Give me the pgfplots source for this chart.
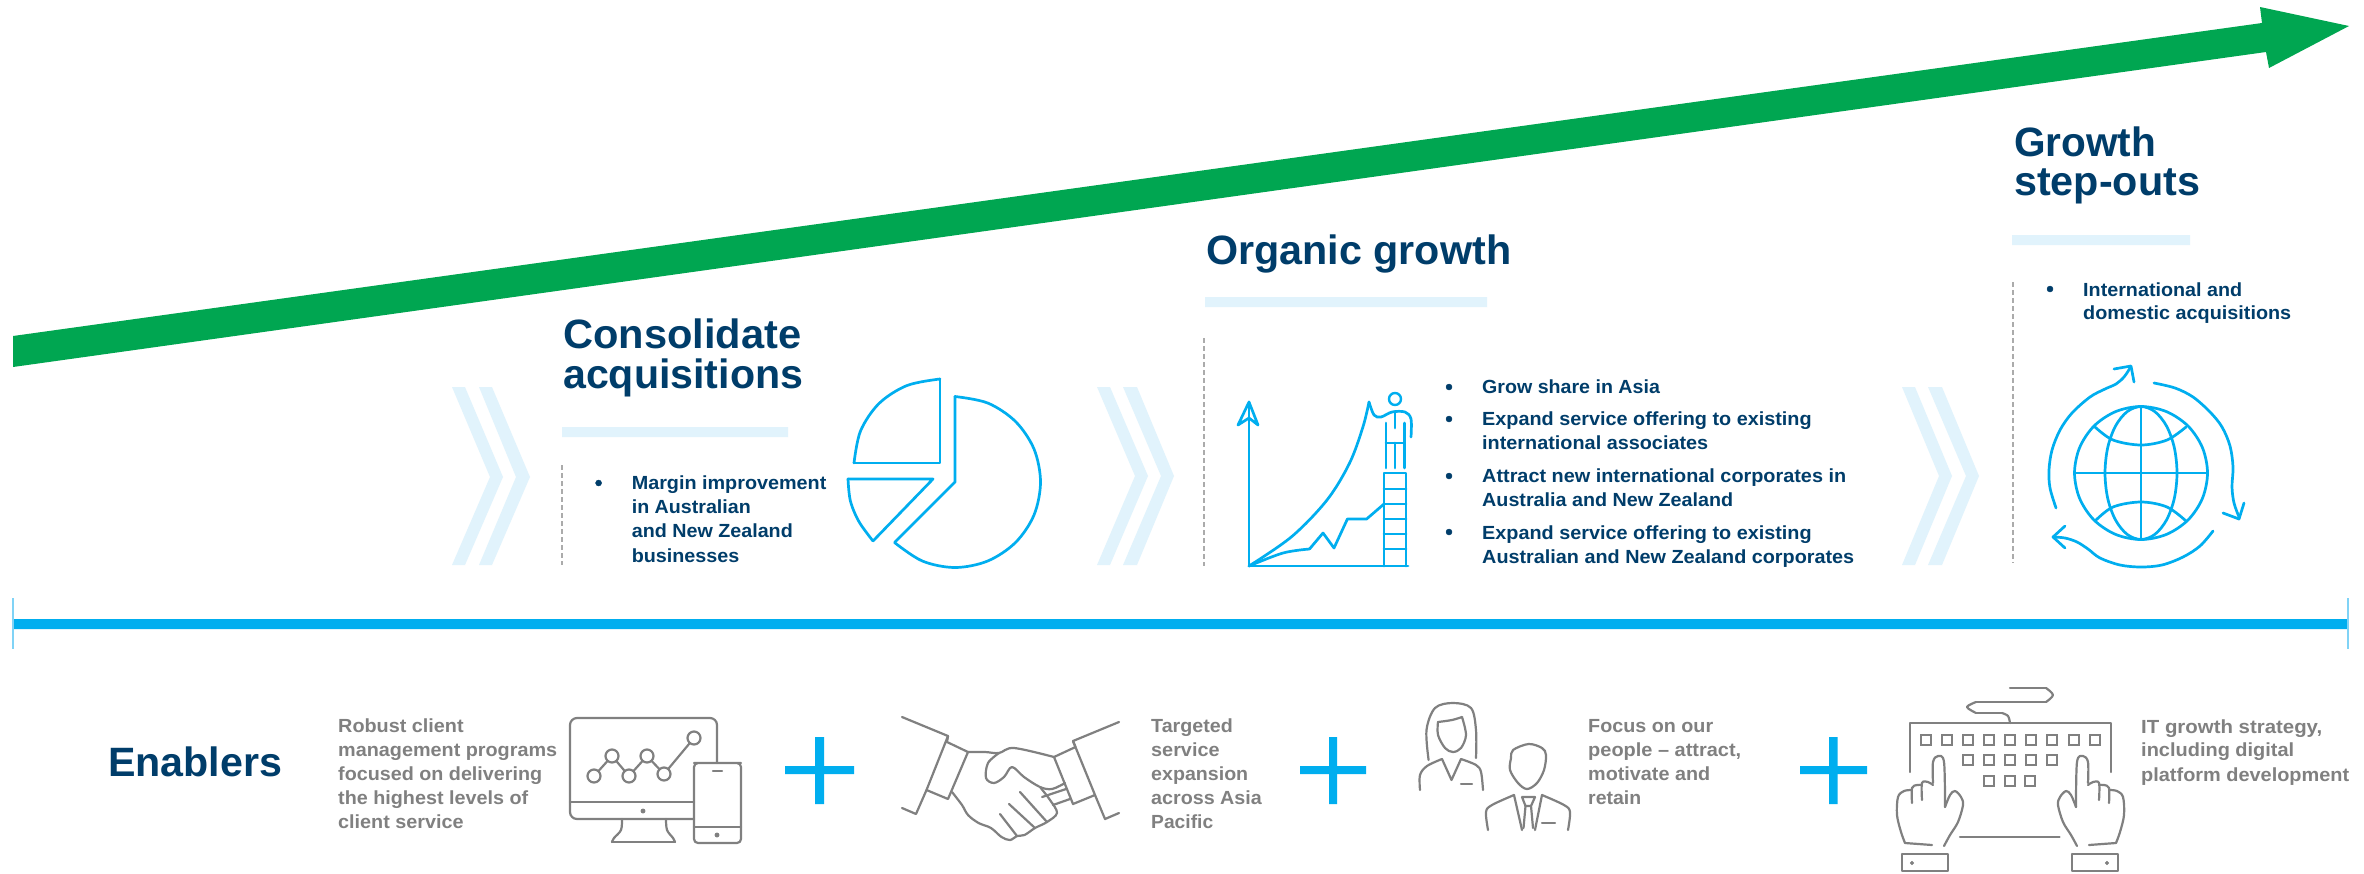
\documentclass[border=0pt]{standalone}
\usepackage{fontspec}
\setmainfont{Liberation Sans}
\usepackage{graphicx}
\usepackage{pgfplots}
\pgfplotsset{compat=1.18}
\definecolor{navy}{HTML}{003D6A}
\definecolor{leaf}{HTML}{00A651}
\definecolor{sky}{HTML}{00AEEF}
\definecolor{pale}{HTML}{E1F3FC}
\definecolor{ash}{HTML}{808080}
\definecolor{dash}{HTML}{ABABAB}
\definecolor{edge}{HTML}{80D3F6}

% one line of bold text: x, baseline y, width, size, colour, words
\newcommand\Lab[6]{\node[anchor=base west,inner sep=0pt,text=#5] at (axis cs:#1,#2)
  {\resizebox{#3pt}{\height}{\fontsize{#4pt}{#4pt}\selectfont\bfseries #6}};}
\newcommand\Area[2]{\addplot[fill=#1,draw=none] coordinates {#2};}
\newcommand\Ln[2]{\addplot[#1] coordinates {#2};}

\pgfplotsset{
  ic/.style={draw=sky,line width=2.7pt,line join=round,line cap=round},
  gr/.style={draw=ash,line width=2.2pt,line join=round,line cap=round},
  sm/.style={smooth,tension=0.55},
  round/.style={smooth cycle,tension=0.55},
  dots/.style={only marks,mark=*,mark size=3pt,mark options={draw=navy,fill=navy}},
  sep/.style={draw=dash,line width=1.8pt,dash pattern=on 5pt off 3pt},
  key/.style={only marks,mark=square*,mark size=5pt,mark options={draw=ash,fill=white,line width=2pt,rounded corners=2pt}},
}

\begin{document}
\begin{tikzpicture}
\begin{axis}[
  scale only axis,width=2364pt,height=873pt,
  xmin=0,xmax=2364,ymin=0,ymax=873,y dir=reverse,
  ticks=none,axis line style={draw=none},
]
% page ground
\Area{white}{(0,0)(2364,0)(2364,873)(0,873)(0,0)}

% rising arrow
\Area{leaf}{(13,336)(2262,23)(2260,7)(2349,26)(2269,68)(2266,52)(13,367)(13,336)}

% chevrons between the stages
\Area{pale}{(452,387)(465,387)(503,477)(465,565)(452,565)(490,477)(452,387)}
\Area{pale}{(479,387)(492,387)(530,477)(492,565)(479,565)(516,477)(479,387)}
\Area{pale}{(1097,387)(1110,387)(1148,476)(1110,565)(1097,565)(1135,476)(1097,387)}
\Area{pale}{(1123,387)(1137,387)(1174,476)(1137,565)(1123,565)(1161,476)(1123,387)}
\Area{pale}{(1902,387)(1915,387)(1952,476)(1915,565)(1902,565)(1939,476)(1902,387)}
\Area{pale}{(1928,387)(1942,387)(1979,476)(1942,565)(1928,565)(1966,476)(1928,387)}

% bars under the headings
\Area{pale}{(562,427)(788,427)(788,437)(562,437)(562,427)}
\Area{pale}{(1205,297)(1487,297)(1487,307)(1205,307)(1205,297)}
\Area{pale}{(2012,235)(2190,235)(2190,245)(2012,245)(2012,235)}

% dashed separators
\Ln{sep,line width=1.4pt}{(562,465)(562,565)}
\Ln{sep}{(1204,338)(1204,566)}
\Ln{sep}{(2013,282)(2013,563)}

% timeline rule
\Area{sky}{(13,619)(2348,619)(2348,629)(13,629)(13,619)}
\Ln{draw=edge,line width=2pt}{(13,598)(13,649)}
\Ln{draw=edge,line width=2pt}{(2348,598)(2348,649)}

% pie icon
\Ln{ic,sm}{(940,379)(907,385.5)(879,403.5)(860.5,431)(854,463)}
\Ln{ic}{(940,379)(940,463)(854,463)}
\Ln{ic,sm}{(955,396.5)(987.7,403)(1015.5,421.5)(1034,449)(1040.5,482)(1034,515)(1015.5,542.5)(987.7,561)(955,567.5)(922.3,561)(894.5,542.5)}
\Ln{ic}{(955,396.5)(955,482)(895,542)}
\Ln{ic}{(848,479)(933,479)(873,541)}
\Ln{ic,sm}{(848,479)(850.4,501)(859,521.7)(873,541)}

% growth chart icon
\Ln{ic}{(1249,566)(1249,402)}
\Ln{ic}{(1238,425)(1249,402)(1258,425)(1249,418)(1238,425)}
\Ln{ic}{(1249,566)(1408,566)}
\Ln{ic}{(1384,566)(1384,473)(1406,473)(1406,566)}
\Ln{ic}{(1384,489)(1406,489)}
\Ln{ic}{(1384,504)(1406,504)}
\Ln{ic}{(1384,519)(1406,519)}
\Ln{ic}{(1384,534)(1406,534)}
\Ln{ic}{(1384,549)(1406,549)}
\Ln{ic,sm}{(1249,566)(1291.6,536.7)(1327,500)(1349.6,463)(1363,426.7)(1369,402)}
\Ln{ic,sm}{(1369,402)(1374,415)(1381,417)(1392,412)(1405,412)(1411,419)(1411,437)}
\Ln{ic,sm}{(1249,566)(1283,553)(1309.5,549)}
\Ln{ic}{(1309.5,549)(1323,533)(1334,548)(1347.4,519)(1366.6,519)(1384,504)}
\addplot[only marks,mark=o,mark size=6pt,mark options={draw=sky,line width=2.4pt}] coordinates {(1395,399)};
\Ln{ic}{(1395,412)(1395,428)}
\Ln{ic}{(1386,423)(1386,468)}
\Ln{ic}{(1404.5,423)(1404.5,468)}
\Ln{ic}{(1386,443)(1404.5,443)}
\Ln{ic}{(1395,443)(1395,468)}

% globe icon
\Ln{ic,round}{(2207.5,473)(2202.4,498.4)(2188,520)(2166.4,534.4)(2141,539.5)(2115.6,534.4)(2094,520)(2079.6,498.4)(2074.5,473)(2079.6,447.6)(2094,426)(2115.6,411.6)(2141,406.5)(2166.4,411.6)(2188,426)(2202.4,447.6)}
\Ln{ic,round}{(2177,473)(2174.3,498.4)(2166.5,520)(2154.8,534.4)(2141,539.5)(2127.2,534.4)(2115.5,520)(2107.7,498.4)(2105,473)(2107.7,447.6)(2115.5,426)(2127.2,411.6)(2141,406.5)(2154.8,411.6)(2166.5,426)(2174.3,447.6)}
\Ln{ic}{(2074.5,473)(2207.5,473)}
\Ln{ic}{(2141,406.5)(2141,539.5)}
\Ln{ic,sm}{(2095,427)(2113,440)(2141,445)(2167,440)(2186,427)}
\Ln{ic,sm}{(2095,521)(2113,507)(2141,502)(2167,507)(2186,521)}
\Ln{ic,sm}{(2056,508)(2050,488)(2049,470)(2052,450)(2060,430)(2072,413)(2090,397)(2105,389)(2116,384)(2124,377)(2130,368)}
\Ln{ic}{(2114,369)(2131,366)(2134,382)}
\Ln{ic,sm}{(2154,383)(2175,388)(2193,397)(2210,412)(2222,427)(2230,446)(2233,467)(2232,487)(2234,503)(2239,517)}
\Ln{ic}{(2223,513)(2239,519)(2244,503)}
\Ln{ic,sm}{(2213,531)(2200,546)(2183,557)(2162,565)(2141,567)(2120,565)(2100,558)(2088,549)(2077,542)(2065,538)(2053,537)}
\Ln{ic}{(2065,526)(2053,537)(2065,548)}

% plus signs
\Area{sky}{(815,737)(824,737)(824,804)(815,804)(815,737)}
\Area{sky}{(785,766)(854,766)(854,774)(785,774)(785,766)}
\Area{sky}{(1329,737)(1337,737)(1337,804)(1329,804)(1329,737)}
\Area{sky}{(1300,766)(1366,766)(1366,774)(1300,774)(1300,766)}
\Area{sky}{(1829,737)(1837.5,737)(1837.5,804)(1829,804)(1829,737)}
\Area{sky}{(1800,766)(1867,766)(1867,774)(1800,774)(1800,766)}

% monitor and phone icon
\Ln{gr,rounded corners=7pt}{(694,819)(570,819)(570,718)(717,718)(717,763)}
\Ln{gr}{(570,802)(694,802)}
\addplot[only marks,mark=*,mark size=2.2pt,mark options={draw=ash,fill=ash}] coordinates {(643,811)(717,835)};
\Ln{gr,sm}{(622,819)(621,830)(614,838)(612,842)}
\Ln{gr,sm}{(666,819)(667,830)(673,838)(675,842)}
\Ln{gr}{(612,842)(675,842)}
\Ln{gr,rounded corners=4pt}{(694,763)(741,763)(741,843)(694,843)(694,763)(741,763)}
\Ln{gr}{(713,771)(722,771)}
\Ln{gr}{(694,827)(741,827)}
\Ln{gr}{(594,776)(612,756)(629,776)(647,756)(664,774)(694,738)}
\addplot[only marks,mark=*,mark size=6.5pt,mark options={draw=ash,fill=white,line width=2.2pt}] coordinates {(594,776)(612,756)(629,776)(647,756)(664,774)(694,738)};

% handshake icon
\Ln{gr}{(902,717)(948,736)(947,742)}
\Ln{gr}{(948,736)(926.5,790)(948,799)(968,752)(947,742)}
\Ln{gr}{(926.5,790)(916,814)(902,808)}
\Ln{gr}{(1119,722)(1073,741)(1075.5,747)}
\Ln{gr}{(1075.5,747)(1054,757)(1073,804)(1095,795)(1073,741)}
\Ln{gr}{(1095,795)(1105,819)(1119,813)}
\Ln{gr,sm}{(968,752)(985,752)(999,753)(1014,748)(1054,757)}
\Ln{gr,sm}{(999,753)(988,763)(986,778)(994,783)(1004,777)(1012,767)(1024,777)(1040,787)(1052,789)(1065,783)}
\Ln{gr,sm}{(1040,787)(1050,800)(1057,813)(1047,822)(1035,828)(1024.5,835)(1017,836)(1010,840)(1001.5,837)(991,828)(978.6,823)(968,815)(962,805)(952,792)}
\Ln{gr}{(1020,792)(1047,822)}
\Ln{gr}{(1009,804)(1035,828)}
\Ln{gr}{(1000,814)(1017,836)}
\Ln{gr}{(1053,805)(1070,799)}
\Ln{gr}{(1042,797)(1066,789)}

% people icon
\Ln{gr,sm}{(1428.6,760)(1426.5,730)(1435,708)(1453,703)(1471,708)(1476,730)(1476,758)}
\Ln{gr,sm}{(1438,722)(1438,735)(1445,748)(1453,752)(1461,748)(1466,735)(1462,717)}
\Ln{gr,sm}{(1438,722)(1452,720)(1462,717)}
\Ln{gr,sm}{(1420,790)(1420,775)(1427,766)(1442,759)}
\Ln{gr}{(1442,759)(1451.5,780)(1461,759)}
\Ln{gr,sm}{(1461,759)(1476,765)(1481,772)(1483,790)}
\Ln{gr}{(1461,784)(1472,784)}
\Ln{gr,round}{(1528.6,744)(1513,750)(1511,758)(1510,770)(1518,783)(1527,789)(1537,783)(1544,770)(1546,755)(1542,748)}
\Ln{gr,sm}{(1488,830)(1486,812)(1492,805)(1514,795)}
\Ln{gr}{(1514,795)(1522,830)}
\Ln{gr,sm}{(1568,830)(1570,812)(1564,805)(1542,795)}
\Ln{gr}{(1542,795)(1535,830)}
\Ln{gr}{(1522,797)(1535,797)(1531,806)(1525.5,806)(1522,797)}
\Ln{gr}{(1525.5,806)(1523.5,828)}
\Ln{gr}{(1531,806)(1533,828)}
\Ln{gr}{(1542,823)(1555,823)}

% keyboard and hands icon
\Ln{gr,sm}{(2046,688)(2053,695)(2046,702)}
\Ln{gr}{(2010,688)(2046,688)}
\Ln{gr}{(1976,702)(2046,702)}
\Ln{gr,sm}{(1976,702)(1967,707)(1976,713)}
\Ln{gr}{(1976,713)(2002,713)}
\Ln{gr,sm}{(2002,713)(2008,716)(2010,723)}
\Ln{gr}{(1910,772)(1910,723)(2111,723)(2111,772)}
\addplot[key] coordinates {(1926,740)(1947,740)(1968,740)(1989,740)(2010,740)(2031,740)(2052,740)(2074,740)(2095,740)
  (1968,760)(1989,760)(2010,760)(2031,760)(2052,760)
  (1989,781)(2010,781)(2030,781)};
\Ln{gr}{(1960,837)(2059.5,837)}
\Ln{gr,sm}{(1933,783)(1933,762)(1938,756)(1944,762)(1945,807)}
\Ln{gr,sm}{(1933,785)(1928,782)(1922,783)(1922,800)}
\Ln{gr,sm}{(1922,785)(1917,785)(1912,788)(1912,803)}
\Ln{gr,sm}{(1912,790)(1904,791)(1898,797)(1897,815)(1901,832)(1905,843)}
\Ln{gr}{(1905,843)(1932,845)}
\Ln{gr,sm}{(1945,807)(1950,795)(1955,791)(1961,797)(1963,805)(1958,822)(1950,835)(1944,846)}
\Ln{gr,sm}{(2088,783)(2088,762)(2083,756)(2077,762)(2076,807)}
\Ln{gr,sm}{(2088,785)(2093,782)(2099,783)(2099,800)}
\Ln{gr,sm}{(2099,785)(2104,785)(2109,788)(2109,803)}
\Ln{gr,sm}{(2109,790)(2117,791)(2123,797)(2124,815)(2120,832)(2116,843)}
\Ln{gr}{(2116,843)(2089,845)}
\Ln{gr,sm}{(2076,807)(2071,795)(2066,791)(2060,797)(2058,805)(2063,822)(2071,835)(2077,846)}
\Ln{gr}{(1902,854)(1948,854)(1948,871)(1902,871)(1902,854)}
\Ln{gr}{(2072,854)(2118,854)(2118,871)(2072,871)(2072,854)}
\addplot[only marks,mark=*,mark size=1.8pt,mark options={draw=ash,fill=ash}] coordinates {(1912,863)(2107,863)};

% bullets
\addplot[dots] coordinates {(598.6,483)(1449,387)(1449,419)(1449,476)(1449,532)(2050,289)};

% stage headings
\Lab{563}{348}{238}{41}{navy}{Consolidate}
\Lab{563}{388}{240}{41}{navy}{acquisitions}
\Lab{1206}{264}{305}{41}{navy}{Organic growth}
\Lab{2014}{156}{142}{41}{navy}{Growth}
\Lab{2014}{195}{186}{41}{navy}{step-outs}
\Lab{108}{776}{174}{41}{navy}{Enablers}

% stage points
\Lab{631.6}{489}{194.6}{19}{navy}{Margin improvement}
\Lab{631.6}{513}{119}{19}{navy}{in Australian}
\Lab{631.6}{537}{161}{19}{navy}{and New Zealand}
\Lab{631.6}{562}{107.6}{19}{navy}{businesses}
\Lab{1482}{393}{177.7}{19}{navy}{Grow share in Asia}
\Lab{1482}{425}{329.5}{19}{navy}{Expand service offering to existing}
\Lab{1482}{449}{226}{19}{navy}{international associates}
\Lab{1482}{482}{364}{19}{navy}{Attract new international corporates in}
\Lab{1482}{506}{251}{19}{navy}{Australia and New Zealand}
\Lab{1482}{539}{329.5}{19}{navy}{Expand service offering to existing}
\Lab{1482}{563}{372}{19}{navy}{Australian and New Zealand corporates}
\Lab{2083}{296}{159}{19}{navy}{International and}
\Lab{2083}{319}{208}{19}{navy}{domestic acquisitions}

% enabler descriptions
\Lab{338}{732}{125.5}{19}{ash}{Robust client}
\Lab{338}{756}{219}{19}{ash}{management programs}
\Lab{338}{780}{204}{19}{ash}{focused on delivering}
\Lab{338}{804}{190}{19}{ash}{the highest levels of}
\Lab{338}{828}{125.5}{19}{ash}{client service}
\Lab{1151}{732}{81.6}{19}{ash}{Targeted}
\Lab{1151}{756}{68.4}{19}{ash}{service}
\Lab{1151}{780}{97}{19}{ash}{expansion}
\Lab{1151}{804}{110.7}{19}{ash}{across Asia}
\Lab{1151}{828}{62}{19}{ash}{Pacific}
\Lab{1588}{732}{125}{19}{ash}{Focus on our}
\Lab{1588}{756}{153}{19}{ash}{people – attract,}
\Lab{1588}{780}{122}{19}{ash}{motivate and}
\Lab{1588}{804}{53}{19}{ash}{retain}
\Lab{2141}{733}{181}{19}{ash}{IT growth strategy,}
\Lab{2141}{756}{153}{19}{ash}{including digital}
\Lab{2141}{781}{208}{19}{ash}{platform development}
\end{axis}
\end{tikzpicture}
\end{document}
